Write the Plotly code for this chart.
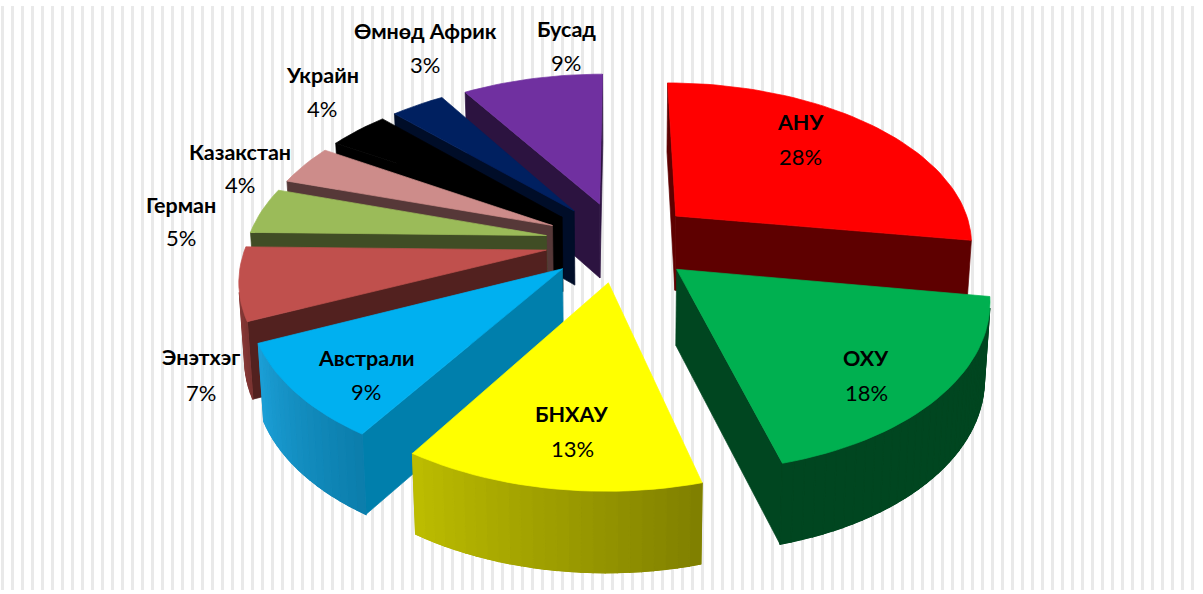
import numpy as np
import plotly.graph_objects as go

# ---- data ----
categories = ["АНУ", "ОХУ", "БНХАУ", "Австрали", "Энэтхэг", "Герман",
              "Казакстан", "Украйн", "Өмнөд Африк", "Бусад"]
shares = [27.8, 18.08, 13.0, 9.12, 7.0, 4.51, 3.94, 3.9, 3.49, 9.16]

# ---- styles ----
top_colors = ["#FF0000", "#00B050", "#FFFF00", "#00B0F0", "#C0504D",
              "#9BBB59", "#CD8C8A", "#000000", "#002060", "#7030A0"]
side_colors = ["#5E0000", "#004620", "#7F7F00", "#007FAC", "#52211F",
               "#404D25", "#563838", "#000000", "#000D28", "#2C1340"]
arc_left = ["#5E0000", "#004620", "#BDBD00", "#1C9FD6", "#9B4240",
            "#404D25", "#563838", "#000000", "#000D28", "#2C1340"]
arc_right = ["#5E0000", "#004620", "#7F7F00", "#0B7DAB", "#7A3331",
             "#404D25", "#563838", "#000000", "#000D28", "#2C1340"]
label_xy = {
    "АНУ": (800, 122, 156), "ОХУ": (866, 358, 392), "БНХАУ": (572, 414, 448),
    "Австрали": (366, 358, 391), "Энэтхэг": (201, 357, 392), "Герман": (181, 205, 237),
    "Казакстан": (240, 152, 184), "Украйн": (322, 75, 108),
    "Өмнөд Африк": (425, 31, 64), "Бусад": (566, 29, 62),
}
FONT = "Lato, 'Noto Sans', sans-serif"

# ---- camera fitted to the picture ----
CX, CY, A, B, P = 620.0, 238.0, 298.0, 160.0, 0.17
PULL, APEX_DROP, DEPTH = 0.25, 0.02, 75.0


def project(x, y, lower=False):
    w = 1 + P * y
    px = CX + A * x / w
    py = CY - B * y / w
    if lower:
        px = CX + (px - CX) * 0.985
        py = py + DEPTH * (1 - 0.07 * y)
    return px, py


def hex_rgb(h):
    return np.array([int(h[i:i + 2], 16) for i in (1, 3, 5)], float)


def mix(c1, c2, t):
    r = hex_rgb(c1) * (1 - t) + hex_rgb(c2) * t
    return "rgb(%d,%d,%d)" % tuple(r.round())


def poly(xs, ys, color, width=0.7):
    return go.Scatter(x=list(xs) + [xs[0]], y=list(ys) + [ys[0]], mode="lines", fill="toself",
                      fillcolor=color, line=dict(color=color, width=width),
                      hoverinfo="skip", showlegend=False)


def quad(p1, p2):
    a, b = project(*p1), project(*p2)
    c, d = project(*p2, lower=True), project(*p1, lower=True)
    xs, ys = [a[0], b[0], c[0], d[0]], [a[1], b[1], c[1], d[1]]
    area = sum(xs[i] * ys[(i + 1) % 4] - xs[(i + 1) % 4] * ys[i] for i in range(4))
    return xs, ys, area


total = sum(shares)
edges = np.cumsum([0] + shares) / total * 2 * np.pi
order = sorted(range(len(shares)), key=lambda i: -np.cos((edges[i] + edges[i + 1]) / 2))

traces = []
for i in order:
    a0, a1 = edges[i], edges[i + 1]
    mid = (a0 + a1) / 2
    ox, oy = PULL * np.sin(mid), PULL * np.cos(mid)
    th = np.linspace(a0, a1, max(6, int(shares[i] * 2)))
    rim = [(ox + np.sin(t), oy + np.cos(t)) for t in th]
    apex = (ox, oy - APEX_DROP)
    # radial side faces
    for p1, p2 in ((apex, rim[0]), (rim[-1], apex)):
        xs, ys, area = quad(p1, p2)
        if area > 0:
            continue
        traces.append(poly(xs, ys, side_colors[i]))
    # outer curved face, in strips with a solid backing to hide seams
    visible = [k for k in range(len(rim) - 1) if quad(rim[k], rim[k + 1])[2] <= 0]
    if visible:
        ring = [rim[k] for k in visible] + [rim[visible[-1] + 1]]
        top = [project(*p) for p in ring]
        low = [project(*p, lower=True) for p in ring][::-1]
        traces.append(poly([p[0] for p in top + low], [p[1] for p in top + low],
                           mix(arc_left[i], arc_right[i], 0.5)))
    for k in visible:
        xs, ys, _ = quad(rim[k], rim[k + 1])
        t = 1 - (k + 0.5) / (len(rim) - 1)
        traces.append(poly(xs, ys, mix(arc_left[i], arc_right[i], t), width=1.2))
    # top face
    pts = [project(*p) for p in [apex] + rim]
    traces.append(poly([p[0] for p in pts], [p[1] for p in pts], top_colors[i]))

fig = go.Figure(traces)
for name, share in zip(categories, shares):
    x, y1, y2 = label_xy[name]
    fig.add_annotation(x=x, y=y1, text="<b>%s</b>" % name, showarrow=False,
                       font=dict(family=FONT, size=21.5, color="#000000"))
    fig.add_annotation(x=x, y=y2, text="%d%%" % round(share), showarrow=False,
                       font=dict(family=FONT, size=22, color="#000000"))

fig.update_layout(
    width=1203, height=594, margin=dict(l=0, r=0, t=6, b=4),
    paper_bgcolor="white", plot_bgcolor="white", showlegend=False,
    xaxis=dict(range=[0, 1203], tick0=2.7, dtick=10, showgrid=True, gridcolor="#E9E9E9",
               gridwidth=3, zeroline=False, showticklabels=False, ticks="", showline=False,
               fixedrange=True),
    yaxis=dict(range=[590, 6], showgrid=False, zeroline=False, showticklabels=False,
               ticks="", showline=False, fixedrange=True),
)
fig.write_html("out.html", config=dict(displayModeBar=False),
               post_script="document.body.style.margin='0';")
